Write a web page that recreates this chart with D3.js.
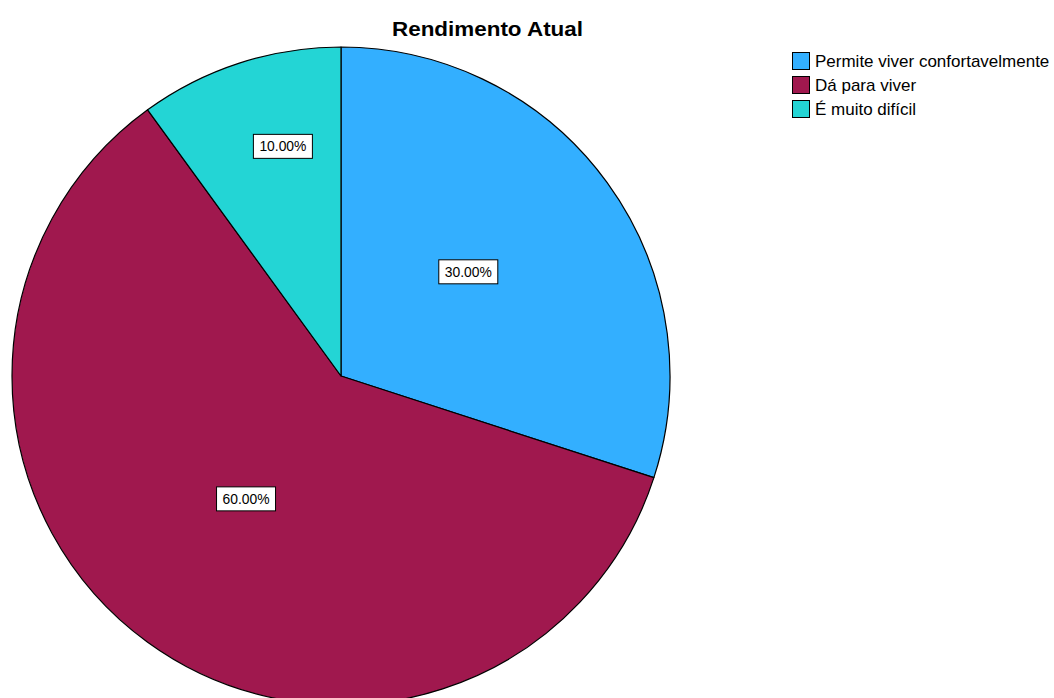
<!DOCTYPE html>
<html>
<head>
<meta charset="utf-8">
<script src="https://cdn.jsdelivr.net/npm/d3@7"></script>
<style>
body { margin: 0; background: #fff; }
svg { display: block; font-family: "Liberation Sans", Arial, sans-serif; }
</style>
</head>
<body>
<svg id="chart" width="1054" height="698"></svg>
<script>
const categories = ["Permite viver confortavelmente", "Dá para viver", "É muito difícil"];
const values = [30, 60, 10];
const valueLabels = ["30.00%", "60.00%", "10.00%"];
const colors = ["#33AFFF", "#A0184E", "#23D5D5"];
const title = "Rendimento Atual";

const W = 1054, H = 698;
const cx = 341, cy = 376, R = 329;
// label placement: [radius fraction, angle offset in degrees from slice bisector]
const labelPlace = [[0.5, -3.3], [0.472, 1.7], [0.72, 3.8]];

const svg = d3.select("#chart");

svg.append("text")
  .attr("x", 392).attr("y", 36)
  .attr("font-size", 20.5).attr("font-weight", "bold")
  .attr("textLength", 191).attr("lengthAdjust", "spacingAndGlyphs")
  .attr("fill", "#000")
  .text(title);

const pie = d3.pie().sort(null).value(d => d)(values);
const arc = d3.arc().innerRadius(0).outerRadius(R);

const g = svg.append("g").attr("transform", `translate(${cx},${cy})`);
g.selectAll("path.slice").data(pie).enter().append("path")
  .attr("class", "slice")
  .attr("d", arc)
  .attr("fill", (d, i) => colors[i])
  .attr("stroke", "#000")
  .attr("stroke-width", 1.2)
  .attr("stroke-linejoin", "round");

pie.forEach((d, i) => {
  const a = (d.startAngle + d.endAngle) / 2 + labelPlace[i][1] * Math.PI / 180;
  const r = R * labelPlace[i][0];
  const x = r * Math.sin(a), y = -r * Math.cos(a);
  const lg = g.append("g").attr("transform", `translate(${x},${y})`);
  lg.append("rect")
    .attr("x", -29.5).attr("y", -12)
    .attr("width", 59).attr("height", 24)
    .attr("fill", "#fff")
    .attr("stroke", "#000")
    .attr("stroke-width", 1);
  lg.append("text")
    .attr("text-anchor", "middle")
    .attr("dy", "0.36em")
    .attr("font-size", 14)
    .attr("textLength", 47).attr("lengthAdjust", "spacingAndGlyphs")
    .attr("fill", "#000")
    .text(valueLabels[i]);
});

const legend = svg.append("g").attr("transform", "translate(792,52)");
categories.forEach((c, i) => {
  const row = legend.append("g").attr("transform", `translate(0,${i * 24})`);
  row.append("rect")
    .attr("x", 0.5).attr("y", 0.5)
    .attr("width", 17).attr("height", 17)
    .attr("fill", colors[i])
    .attr("stroke", "#000").attr("stroke-width", 1);
  row.append("text")
    .attr("x", 23).attr("y", 9)
    .attr("dy", "0.36em")
    .attr("font-size", 17)
    .attr("fill", "#000")
    .text(c);
});
</script>
</body>
</html>
